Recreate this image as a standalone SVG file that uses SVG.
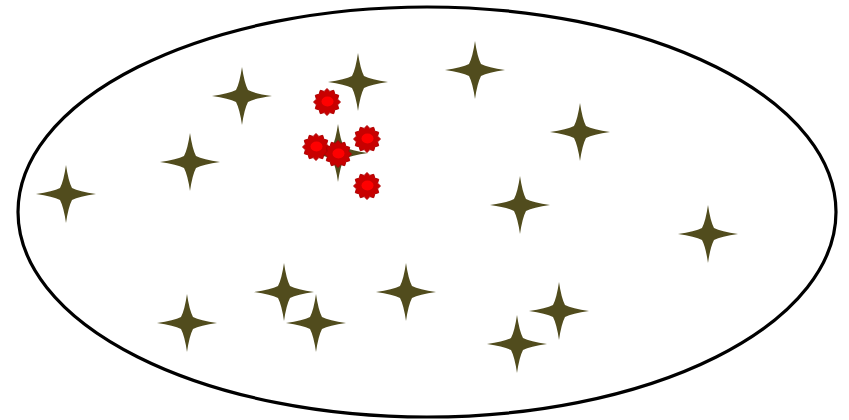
<svg xmlns="http://www.w3.org/2000/svg" xmlns:xlink="http://www.w3.org/1999/xlink" width="849" height="420" viewBox="0 0 849 420">
<style>
.star{fill:#514c1d}
.gear{fill:#c80000;stroke:#b00000;stroke-width:1}
.core{fill:#ff0000}
</style>
<defs>
<path id="s" class="star" d="M0,-29 Q2.3,-13 6,-6 Q13,-2.3 30,0 Q13,2.3 6,6 Q2.3,13 0,29 Q-2.3,13 -6,6 Q-13,2.3 -30,0 Q-13,-2.3 -6,-6 Q-2.3,-13 0,-29 Z"/>
<g id="b">
<polygon class="gear" points="13.5,0 10.6,2.8 11.7,6.75 7.8,7.8 6.75,11.7 2.8,10.6 0,13.5 -2.8,10.6 -6.75,11.7 -7.8,7.8 -11.7,6.75 -10.6,2.8 -13.5,0 -10.6,-2.8 -11.7,-6.75 -7.8,-7.8 -6.75,-11.7 -2.8,-10.6 0,-13.5 2.8,-10.6 6.75,-11.7 7.8,-7.8 11.7,-6.75 10.6,-2.8"/>
<ellipse class="core" cx="0.5" cy="-0.5" rx="6" ry="5"/>
</g>
</defs>
<rect width="849" height="420" fill="#fff"/>
<ellipse id="set" cx="427" cy="212" rx="409" ry="205" fill="none" stroke="#000" stroke-width="3.2"/>
<g id="stars">
<use xlink:href="#s" x="242" y="96"/>
<use xlink:href="#s" x="358" y="82"/>
<use xlink:href="#s" x="475" y="70"/>
<use xlink:href="#s" x="580" y="132"/>
<use xlink:href="#s" x="190" y="162"/>
<use xlink:href="#s" x="66" y="194"/>
<use xlink:href="#s" x="338" y="153"/>
<use xlink:href="#s" x="520" y="205"/>
<use xlink:href="#s" x="708" y="234"/>
<use xlink:href="#s" x="284" y="292"/>
<use xlink:href="#s" x="406" y="292"/>
<use xlink:href="#s" x="187" y="323"/>
<use xlink:href="#s" x="316" y="323"/>
<use xlink:href="#s" x="559" y="311"/>
<use xlink:href="#s" x="517" y="344"/>
</g>
<g id="blobs">
<use xlink:href="#b" x="327" y="102"/>
<use xlink:href="#b" x="316" y="147"/>
<use xlink:href="#b" x="338" y="154"/>
<use xlink:href="#b" x="367" y="139"/>
<use xlink:href="#b" x="367" y="186"/>
</g>
</svg>
